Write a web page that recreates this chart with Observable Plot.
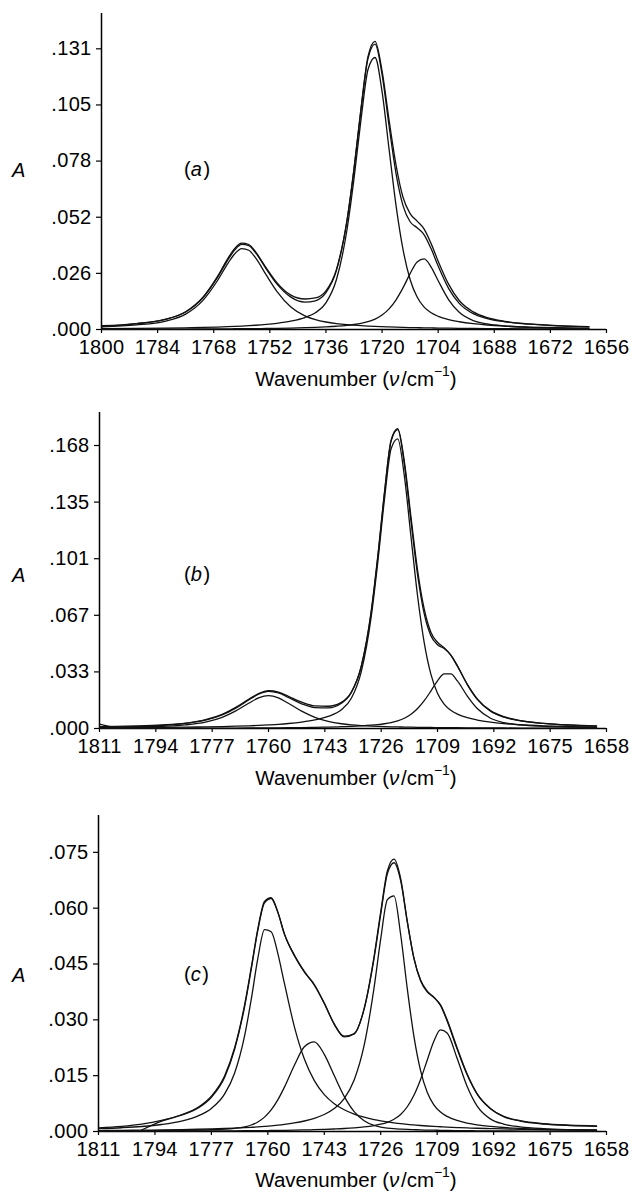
<!DOCTYPE html>
<html><head><meta charset="utf-8">
<script src="https://cdn.jsdelivr.net/npm/d3@7"></script>
<script src="https://cdn.jsdelivr.net/npm/@observablehq/plot@0.6"></script>
<style>
body{margin:0;background:#fff;}
#wrap{position:relative;width:633px;height:1196px;font-family:"Liberation Sans",Arial,Helvetica,sans-serif;color:#000;overflow:hidden;}
.panel{position:absolute;left:0;}
.lbl{position:absolute;font-size:20px;white-space:nowrap;line-height:1;}
.xl{font-size:20.5px;}
.ctr{transform:translate(-50%,-50%);}
.vc{transform:translateY(-50%);}
sup{font-size:0.68em;position:relative;top:-0.15em;line-height:0;}
</style></head><body><div id="wrap"></div>
<script>
// ---------- Panel (a) ----------
const wnA = [1800,1790,1782,1776,1771,1767,1764,1762,1760,1758,1756,1753,1750,1746,1742,1739,1736,1733,1730,1728,1726,1724,1722,1720,1718,1716,1714,1712,1710,1708,1706,1704,1701,1698,1694,1690,1685,1678,1670,1661];
const obsA = [.0013,.0027,.0047,.0083,.0152,.0245,.0330,.0378,.0402,.0396,.0360,.0286,.0218,.0160,.0142,.0147,.0180,.0280,.0508,.0748,.1030,.1272,.1342,.1205,.0975,.0765,.0615,.0540,.0505,.0468,.0400,.0318,.0210,.0135,.0082,.0055,.0038,.0026,.0018,.0013];
const fitA = [.00175,.00277,.00462,.00816,.01491,.02402,.03232,.03708,.03965,.03906,.0356,.02816,.02125,.01507,.01276,.01338,.01714,.02755,.05066,.07458,.10254,.12634,.13298,.11884,.09481,.07254,.05759,.05019,.04743,.04411,.03758,.02955,.01906,.01219,.00737,.00511,.00361,.00246,.00172,.00124];
const bandA1 = [.00125,.00212,.0038,.00716,.0137,.0226,.0307,.0353,.0377,.0369,.0332,.0253,.0178,.0105,.00636,.00459,.00349,.00276,.00226,.0020,.00178,.0016,.00144,.00131,.00119,.00109,.0010,.00092,.00085,.00078,.00073,.00068,.00061,.00055,.00049,.00044,.00038,.00032,.00026,.00022];
const bandA2 = [.00038,.0005,.00064,.00079,.00096,.00114,.00131,.00144,.00159,.00177,.00198,.00238,.0029,.0039,.00556,.00779,.01243,.02327,.04647,.07025,.0979,.1211,.1267,.1108,.0840,.0576,.0371,.02327,.01511,.01043,.00779,.00615,.0046,.00361,.0027,.0021,.00159,.00114,.00082,.0006];
const bandA3 = [.00012,.00015,.00018,.00021,.00025,.00028,.00031,.00034,.00036,.00039,.00042,.00048,.00055,.00067,.00084,.001,.00122,.00152,.00193,.00233,.00286,.00364,.00484,.00673,.00962,.01385,.01949,.026,.03147,.0329,.02906,.02272,.01385,.00803,.00418,.00257,.00164,.001,.00064,.00042];
const xTicksA = [1800,1784,1768,1752,1736,1720,1704,1688,1672,1656];
const yTicksA = [0,0.02615,0.0523,0.07845,0.1046,0.13075];
const yLabelsA = [".000",".026",".052",".078",".105",".131"];

// ---------- Panel (b) ----------
const wnB = [1811,1806,1800,1792,1785,1779,1774,1770,1766,1763,1760,1757,1754,1750,1746,1742,1738,1735,1732,1729,1727,1725,1723,1721,1719,1717,1715,1713,1711,1709,1707,1705,1703,1700,1697,1693,1689,1684,1677,1669,1661];
const obsB = [.0026,.0009,.0011,.0019,.0031,.0052,.0084,.0124,.0173,.0207,.0224,.0216,.0191,.0156,.0134,.0132,.0155,.0216,.0368,.0690,.1018,.1398,.1712,.1780,.1585,.1255,.0938,.0708,.0572,.0512,.0480,.0436,.0370,.0262,.0176,.0106,.0070,.0047,.0030,.0020,.0014];
const fitB = [.00106,.00124,.00153,.00214,.00314,.00498,.00802,.01191,.01688,.02033,.02202,.02108,.01841,.01468,.01241,.01224,.01499,.02137,.03707,.06976,.10262,.1401,.17057,.1774,.15683,.12304,.09107,.06804,.05514,.04977,.04744,.04372,.03725,.02608,.01726,.01021,.00673,.00461,.00308,.00213,.00157];
const bandB1 = [.00056,.00068,.00088,.00134,.00216,.0038,.00662,.01028,.01496,.01815,.0195,.01815,.01496,.01028,.00662,.00423,.00281,.00216,.00173,.00142,.00126,.00113,.00102,.00092,.00084,.00077,.0007,.00065,.0006,.00056,.00052,.00048,.00045,.00041,.00037,.00033,.00029,.00026,.00021,.00018,.00015];
const bandB2 = [.0004,.00045,.00052,.00065,.0008,.00097,.00116,.00136,.00161,.00184,.00214,.0025,.00297,.00383,.0051,.00717,.01112,.01794,.03378,.06638,.09903,.13615,.16604,.17194,.14989,.11382,.07851,.05089,.03229,.02098,.01452,.01084,.00857,.0064,.00503,.00378,.00293,.00222,.0016,.00115,.00087];
const bandB3 = [.0001,.00011,.00013,.00015,.00018,.00021,.00024,.00027,.00031,.00034,.00038,.00043,.00048,.00057,.00069,.00084,.00106,.00127,.00156,.00196,.00233,.00282,.00351,.00454,.0061,.00845,.01186,.0165,.02225,.02823,.0324,.0324,.02823,.01927,.01186,.0061,.00351,.00213,.00127,.0008,.00055];
const xTicksB = [1811,1794,1777,1760,1743,1726,1709,1692,1675,1658];
const yTicksB = [0,0.0336,0.0672,0.1008,0.1344,0.168];
const yLabelsB = [".000",".033",".067",".101",".135",".168"];

// ---------- Panel (c) ----------
const wnC = [1811,1804,1798,1792,1786,1781,1777,1773,1770,1767,1765,1763,1761,1759,1757,1755,1752,1749,1746,1743,1740,1737,1734,1731,1728,1726,1724,1722,1720,1718,1716,1714,1712,1710,1708,1706,1703,1700,1697,1693,1689,1684,1677,1669,1661];
const obsC = [.0010,.0014,.0020,.0030,.0045,.0065,.0095,.0150,.0225,.0340,.0440,.0545,.0618,.0628,.0590,.0530,.0472,.0428,.0395,.0345,.0288,.0254,.0262,.0330,.0470,.0590,.0700,.0732,.0680,.0565,.0465,.0405,.0375,.0360,.0340,.0300,.0225,.0155,.0102,.0062,.0040,.0028,.0020,.0016,.0014];
const fitC = [null,null,.0004,.0028,.0044,.0063,.0092,.0146,.0221,.0335,.0436,.0541,.0614,.0626,.0589,.0531,.0474,.0430,.0393,.0344,.0289,.0256,.0263,.0329,.0466,.0584,.0692,.0722,.0674,.0563,.0466,.0407,.0377,.0361,.0339,.0297,.0222,.0153,.0101,.0062,.0041,.0029,.0021,.0017,.0015];
const bandC1 = [.00075,.00101,.00134,.00188,.0028,.00419,.0062,.01009,.01572,.0257,.03548,.04657,.05425,.05368,.04788,.03977,.02813,.01947,.01368,.00992,.00748,.00584,.00467,.00384,.0032,.00286,.00257,.00232,.0021,.00192,.00176,.00161,.00148,.00137,.00127,.00118,.00106,.00096,.00087,.00078,.00069,.00061,.00051,.00043,.00036];
const bandC2 = [.00012,.00015,.00018,.00023,.0003,.00039,.0005,.00064,.00086,.00126,.00175,.00256,.00386,.00579,.00849,.01192,.0178,.02277,.02408,.02074,.01502,.00945,.00535,.00289,.00163,.00119,.00092,.00075,.00064,.00055,.00048,.00043,.00038,.00035,.00031,.00028,.00025,.00022,.00019,.00017,.00014,.00012,.0001,.00008,.00007];
const bandC3 = [.00026,.00031,.00036,.00042,.00051,.0006,.00069,.0008,.0009,.00103,.00112,.00123,.00136,.00151,.00169,.0019,.00229,.00282,.00354,.00457,.00616,.00886,.01383,.02311,.03867,.05173,.06228,.06331,.05292,.03837,.02555,.01636,.01056,.00717,.00523,.00405,.00296,.00227,.0018,.00137,.00107,.00082,.00059,.00043,.00033];
const bandC4 = [.00007,.00008,.00009,.0001,.00012,.00014,.00015,.00017,.00019,.00021,.00022,.00024,.00025,.00027,.0003,.00032,.00036,.00042,.00048,.00056,.00067,.0008,.00098,.00123,.0016,.00195,.00247,.00328,.00458,.00665,.00974,.01399,.01915,.02425,.02731,.02648,.01968,.01216,.00691,.00339,.00199,.00125,.00076,.00049,.00034];
const xTicksC = [1811,1794,1777,1760,1743,1726,1709,1692,1675,1658];
const yTicksC = [0,0.015,0.030,0.045,0.060,0.075];
const yLabelsC = [".000",".015",".030",".045",".060",".075"];

const panelTags = ["a","b","c"];

const panels = [
  {top:0,   height:399, wn:wnA, curves:[obsA,fitA,bandA1,bandA2,bandA3], xDomain:[1800,1656], xTicks:xTicksA, yMax:0.1472, yTicks:yTicksA, yLabels:yLabelsA, ml:101, aY:170, xlY:379},
  {top:399, height:399, wn:wnB, curves:[obsB,fitB,bandB1,bandB2,bandB3], xDomain:[1811,1658], xTicks:xTicksB, yMax:0.1876, yTicks:yTicksB, yLabels:yLabelsB, ml:99, aY:176, xlY:379},
  {top:802, height:394, wn:wnC, curves:[obsC,fitC,bandC1,bandC2,bandC3,bandC4], xDomain:[1811,1658], xTicks:xTicksC, yMax:0.0849, yTicks:yTicksC, yLabels:yLabelsC, ml:98, aY:173, xlY:378}
];

const wrap = document.getElementById("wrap");
const FONT = '"Liberation Sans", Arial, Helvetica, sans-serif';

panels.forEach((p, k) => {
  const lab = new Map(p.yTicks.map((t, i) => [t, p.yLabels[i]]));
  const lineMarks = p.curves.map(vals =>
    Plot.line(p.wn.map((w, i) => ({wn: w, A: vals[i]})), {
      x: "wn", y: "A", curve: "monotone-x", stroke: "#111", strokeWidth: 1.3
    })
  );
  const chart = Plot.plot({
    width: 633,
    height: p.height,
    marginTop: 13,
    marginBottom: p.height - 329,
    marginLeft: p.ml,
    marginRight: 27,
    x: {domain: p.xDomain},
    y: {domain: [0, p.yMax]},
    style: {fontSize: "20px", fontFamily: FONT, color: "#000", background: "#fff", overflow: "visible", letterSpacing: "0.3px"},
    marks: [
      Plot.axisX({ticks: p.xTicks, tickSize: 4, tickPadding: 6, tickFormat: d => String(d), label: null, strokeWidth: 1.2}),
      Plot.axisY({ticks: p.yTicks, tickSize: 5, tickPadding: 5, tickFormat: d => lab.get(d), label: null, strokeWidth: 1.2}),
      Plot.ruleY([0], {stroke: "#000", strokeWidth: 1.5}),
      Plot.ruleX([p.xDomain[0]], {stroke: "#000", strokeWidth: 1.5}),
      ...lineMarks
    ]
  });
  const div = document.createElement("div");
  div.className = "panel";
  div.style.top = p.top + "px";
  div.appendChild(chart);
  wrap.appendChild(div);

  const a = document.createElement("div");
  a.className = "lbl vc";
  a.style.left = "12px";
  a.style.top = (p.top + p.aY) + "px";
  a.innerHTML = "<i>A</i>";
  wrap.appendChild(a);

  const t = document.createElement("div");
  t.className = "lbl vc";
  t.style.left = "184px";
  t.style.top = (p.top + p.aY - 1) + "px";
  t.innerHTML = "(<i>" + panelTags[k] + "</i>&#8202;)";
  wrap.appendChild(t);

  const xl = document.createElement("div");
  xl.className = "lbl xl ctr";
  xl.style.left = "356px";
  xl.style.top = (p.top + p.xlY) + "px";
  xl.innerHTML = "Wavenumber (<i>\u03bd</i>&#8202;/cm<sup>\u22121</sup>)";
  wrap.appendChild(xl);
});
</script></body></html>
